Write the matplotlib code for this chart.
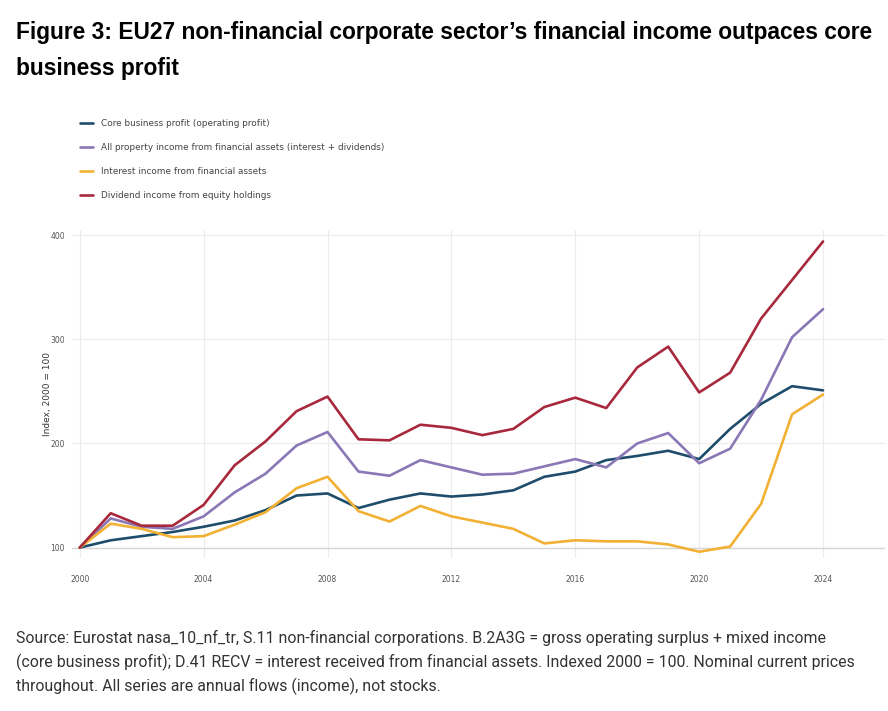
import numpy as np
import matplotlib
matplotlib.use("Agg")
from matplotlib import pyplot as plt

# ----------------- Data (index, 2000 = 100) -----------------
years = list(range(2000, 2025))

core_profit = [100, 107, 111, 115, 120, 126, 136, 150, 152, 138, 146, 152, 149,
               151, 155, 168, 173, 184, 188, 193, 185, 214, 238, 255, 251]
property_income = [100, 128, 120, 118, 130, 153, 171, 198, 211, 173, 169, 184, 177,
                   170, 171, 178, 185, 177, 200, 210, 181, 195, 242, 302, 329]
interest_income = [100, 123, 118, 110, 111, 122, 134, 157, 168, 135, 125, 140, 130,
                   124, 118, 104, 107, 106, 106, 103, 96, 101, 142, 228, 247]
dividend_income = [100, 133, 121, 121, 141, 179, 202, 231, 245, 204, 203, 218, 215,
                   208, 214, 235, 244, 234, 273, 293, 249, 268, 320, 357, 394]

series_labels = [
    "Core business profit (operating profit)",
    "All property income from financial assets (interest + dividends)",
    "Interest income from financial assets",
    "Dividend income from equity holdings",
]
series_colors = ["#1e4d6b", "#8a77b5", "#f2b134", "#a8283c"]

x_ticks = [2000, 2004, 2008, 2012, 2016, 2020, 2024]
y_ticks = [100, 200, 300, 400]

title = ("Figure 3: EU27 non-financial corporate sector\u2019s financial income outpaces core\n"
         "business profit")
source = ("Source: Eurostat nasa_10_nf_tr, S.11 non-financial corporations. B.2A3G = gross operating surplus + mixed income\n"
          "(core business profit); D.41 RECV = interest received from financial assets. Indexed 2000 = 100. Nominal current prices\n"
          "throughout. All series are annual flows (income), not stocks.")

# ----------------- Figure -----------------
W, H = 888, 711
fig = plt.figure(figsize=(W / 100, H / 100), dpi=100)
fig.patch.set_facecolor("white")

# axes placed in pixel terms: left 72, right 885, top 230, bottom 558
ax = fig.add_axes([72 / W, 1 - 558 / H, (885 - 72) / W, (558 - 230) / H])

all_series = [core_profit, property_income, interest_income, dividend_income]
handles = []
for vals, lab, col in zip(all_series, series_labels, series_colors):
    h, = ax.plot(years, vals, color=col, lw=1.9, label=lab, solid_capstyle="round",
                 solid_joinstyle="round")
    handles.append(h)

ax.set_xlim(1999.75, 2026.0)
ax.set_ylim(90, 405)
ax.set_xticks(x_ticks)
ax.set_yticks(y_ticks)
ax.tick_params(length=0, labelsize=5.5, labelcolor="#555555")
ax.tick_params(axis="x", pad=12)
ax.tick_params(axis="y", pad=5)
ax.grid(True, color="#ececec", lw=0.8)
ax.axhline(100, color="#d6d6d6", lw=1.0, zorder=1)
ax.set_axisbelow(True)
for s in ax.spines.values():
    s.set_visible(False)
ax.set_ylabel("Index, 2000 = 100", fontsize=6.5, color="#333333", labelpad=-1)

# legend above panel, top-left
fig.legend(handles=handles, labels=series_labels, loc="upper left",
           bbox_to_anchor=(72 / W, 1 - 111 / H), frameon=False, fontsize=6.4,
           handlelength=1.5, labelspacing=1.7, handletextpad=0.9,
           labelcolor="#444444")

fig.text(16 / W, 1 - 21 / H, title, fontsize=16.4, fontweight="bold",
         family="Liberation Sans", va="top", ha="left", linespacing=1.75)
fig.text(16 / W, 1 - 630 / H, source, fontsize=11.4, family="Roboto",
         va="top", ha="left", color="#333333", linespacing=1.55)

fig.savefig("out.png", dpi=100, facecolor="white")
